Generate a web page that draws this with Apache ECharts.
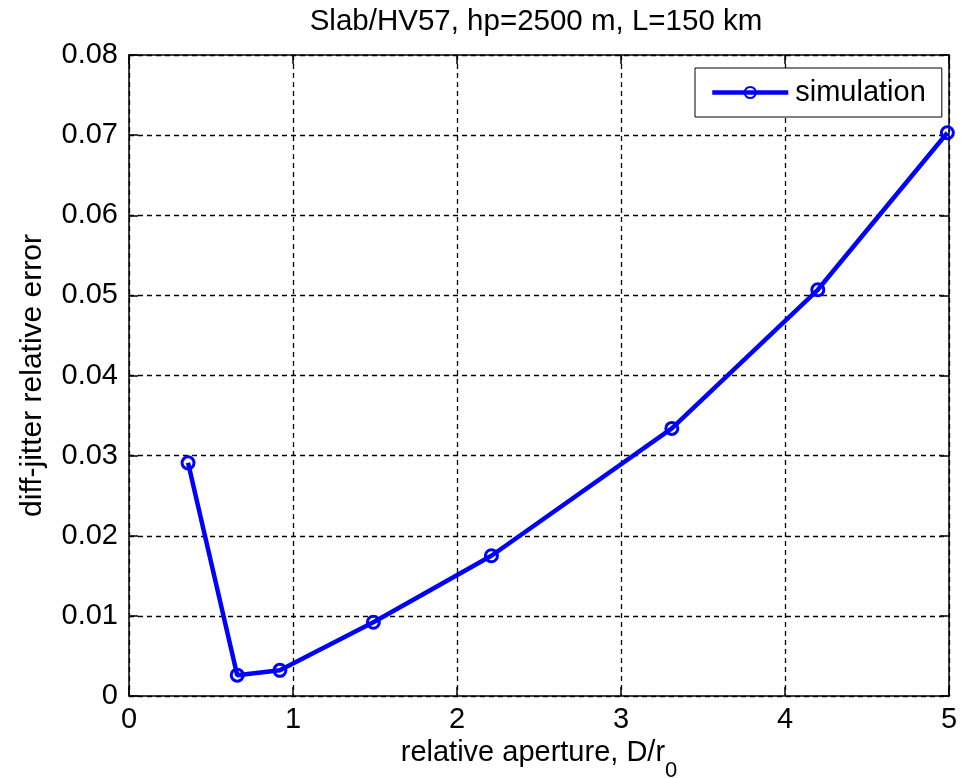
<!DOCTYPE html>
<html>
<head>
<meta charset="utf-8">
<title>diff-jitter relative error</title>
<script src="https://cdn.jsdelivr.net/npm/echarts@6/dist/echarts.min.js"></script>
<style>
  html, body { margin: 0; padding: 0; background: #ffffff; }
  #chart { width: 972px; height: 779px; }
</style>
</head>
<body>
<div id="chart"></div>
<script>
// Relative aperture D/r0 and the measured diff-jitter relative error
const apertureRatio = [0.36, 0.66, 0.92, 1.49, 2.21, 3.31, 4.20, 4.99];
const relError = [0.0291, 0.0026, 0.0032, 0.0092, 0.0175, 0.0334, 0.0507, 0.0703];

const xTicks = { min: 0, max: 5, interval: 1 };
const yTicks = { min: 0, max: 0.08, interval: 0.01 };

const FONT = '"Liberation Sans", Arial, sans-serif';
const FS = 29;
const BLUE = '#0000ff';

const chart = echarts.init(document.getElementById('chart'), null, { renderer: 'canvas' });

const boxAxisLine = { show: true, onZero: false, lineStyle: { color: '#000', width: 1.5 } };
const gridDash = { show: true, lineStyle: { color: '#000', width: 1.3, type: [5, 4] } };
const inTicks = { show: true, inside: true, length: 9, lineStyle: { color: '#000', width: 1.5 } };

chart.setOption({
  backgroundColor: '#ffffff',
  animation: false,
  title: {
    text: 'Slab/HV57, hp=2500 m, L=150 km',
    left: 536,
    textAlign: 'center',
    top: 7,
    padding: 0,
    textStyle: { fontFamily: FONT, fontSize: 29.5, fontWeight: 'normal', color: '#000' }
  },
  legend: {
    left: 695,
    top: 68,
    orient: 'vertical',
    padding: [10, 16, 10, 15],
    borderColor: '#000',
    borderWidth: 1,
    backgroundColor: '#fff',
    itemWidth: 76,
    itemHeight: 14,
    itemGap: 0,
    lineStyle: { color: BLUE, width: 4.5 },
    textStyle: { fontFamily: FONT, fontSize: FS, color: '#000', padding: [0, 0, 0, 2] },
    data: ['simulation']
  },
  grid: { left: 129, right: 23, top: 55, bottom: 83, containLabel: false, outerBoundsMode: 'none' },
  xAxis: [
    {
      type: 'value',
      min: xTicks.min, max: xTicks.max, interval: xTicks.interval,
      position: 'bottom',
      axisLine: boxAxisLine,
      axisTick: inTicks,
      splitLine: gridDash,
      axisLabel: { color: '#000', fontFamily: FONT, fontSize: FS, margin: 9 },
      name: '{m|relative aperture, D/r}{sub|0}',
      nameLocation: 'middle',
      nameGap: 40,
      nameTextStyle: {
        fontFamily: FONT, fontSize: FS, color: '#000',
        rich: {
          m: { fontFamily: FONT, fontSize: FS, lineHeight: 34, verticalAlign: 'top', color: '#000' },
          sub: { fontFamily: FONT, fontSize: 22, lineHeight: 22, padding: [21, 0, 0, 0], verticalAlign: 'top', color: '#000' }
        }
      }
    },
    {
      type: 'value',
      min: xTicks.min, max: xTicks.max, interval: xTicks.interval,
      position: 'top',
      axisLine: boxAxisLine,
      axisTick: inTicks,
      splitLine: { show: false },
      axisLabel: { show: false }
    }
  ],
  yAxis: [
    {
      type: 'value',
      min: yTicks.min, max: yTicks.max, interval: yTicks.interval,
      position: 'left',
      axisLine: boxAxisLine,
      axisTick: inTicks,
      splitLine: gridDash,
      axisLabel: {
        color: '#000', fontFamily: FONT, fontSize: FS, margin: 11,
        formatter: v => (v === 0 ? '0' : v.toFixed(2))
      },
      name: 'diff-jitter relative error',
      nameLocation: 'middle',
      nameRotate: 90,
      nameGap: 81,
      nameTextStyle: { fontFamily: FONT, fontSize: 30, color: '#000' }
    },
    {
      type: 'value',
      min: yTicks.min, max: yTicks.max, interval: yTicks.interval,
      position: 'right',
      axisLine: boxAxisLine,
      axisTick: inTicks,
      splitLine: { show: false },
      axisLabel: { show: false }
    }
  ],
  series: [
    {
      name: 'simulation',
      type: 'line',
      xAxisIndex: 0,
      yAxisIndex: 0,
      data: apertureRatio.map((x, i) => [x, relError[i]]),
      symbol: 'circle',
      symbolSize: 12,
      showAllSymbol: true,
      lineStyle: { color: BLUE, width: 4.5 },
      itemStyle: { color: 'rgba(0,0,0,0)', borderColor: BLUE, borderWidth: 3 },
      emphasis: { disabled: true },
      z: 5
    }
  ]
});
</script>
</body>
</html>
